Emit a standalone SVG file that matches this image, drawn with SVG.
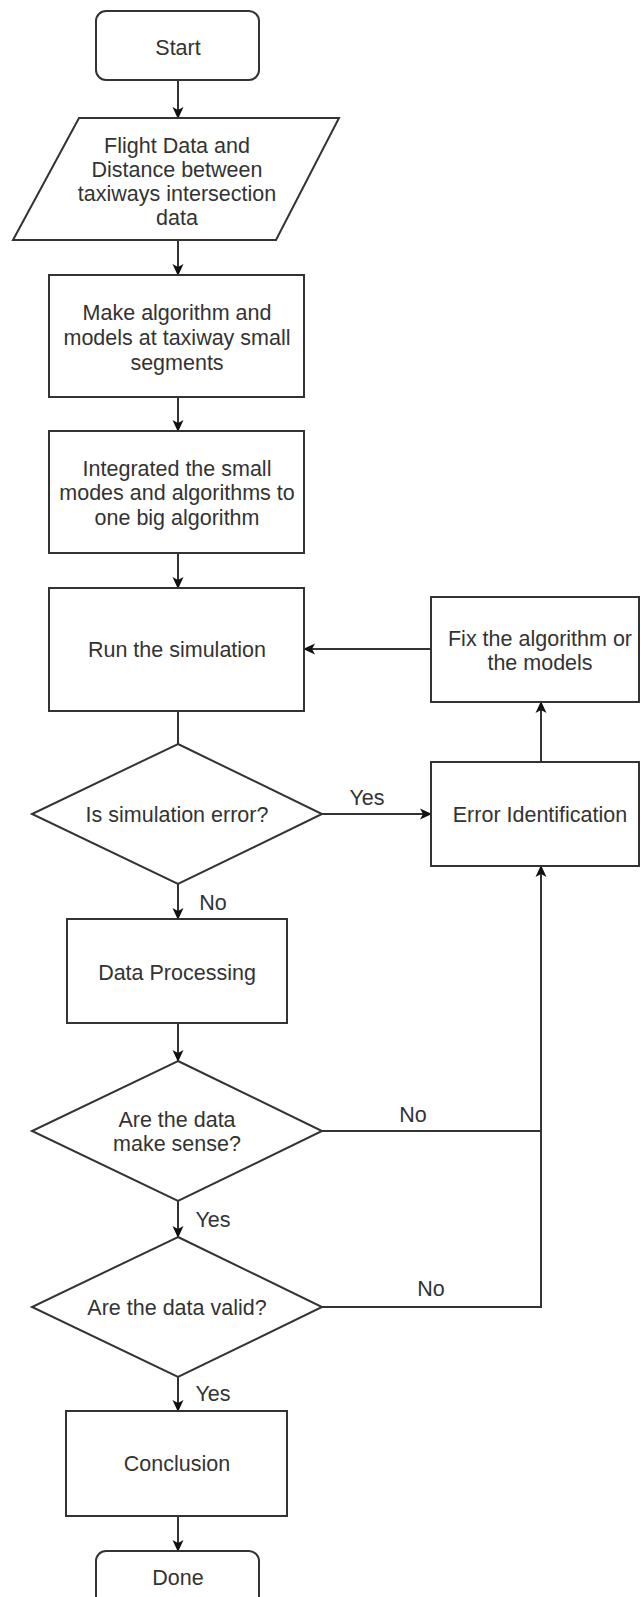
<svg xmlns="http://www.w3.org/2000/svg" width="641" height="1597" viewBox="0 0 641 1597">
<style>
.n{fill:#fff;stroke:#333;stroke-width:2}
.c{fill:none;stroke:#333;stroke-width:2}
text{font-family:"Liberation Sans",Arial,sans-serif;font-size:21.5px;fill:#333;text-anchor:middle}
</style>
<defs>
<marker id="ah" markerUnits="userSpaceOnUse" markerWidth="12" markerHeight="12" viewBox="0 0 12 12" refX="11" refY="6" orient="auto">
<path d="M0,0.5 L12,6 L0,11.5 L3,6 z" fill="#111"/>
</marker>
</defs>
<rect width="641" height="1597" fill="#fff"/>
<g id="connectors">
<path class="c" d="M178,80 V118" marker-end="url(#ah)"/>
<path class="c" d="M178,240 V275" marker-end="url(#ah)"/>
<path class="c" d="M178,397 V431" marker-end="url(#ah)"/>
<path class="c" d="M178,553 V588" marker-end="url(#ah)"/>
<path class="c" d="M178,711 V744"/>
<path class="c" d="M322,814 H431" marker-end="url(#ah)"/>
<path class="c" d="M541,762 V702" marker-end="url(#ah)"/>
<path class="c" d="M431,649 H304" marker-end="url(#ah)"/>
<path class="c" d="M178,884 V919" marker-end="url(#ah)"/>
<path class="c" d="M178,1023 V1061" marker-end="url(#ah)"/>
<path class="c" d="M322,1131 H541"/>
<path class="c" d="M178,1201 V1237" marker-end="url(#ah)"/>
<path class="c" d="M322,1307 H541 V866" marker-end="url(#ah)"/>
<path class="c" d="M178,1377 V1411" marker-end="url(#ah)"/>
<path class="c" d="M178,1516 V1551" marker-end="url(#ah)"/>
<text x="367" y="805">Yes</text>
<text x="213" y="910">No</text>
<text x="413" y="1122">No</text>
<text x="213" y="1227">Yes</text>
<text x="431" y="1296">No</text>
<text x="213" y="1401">Yes</text>
</g>
<g id="start">
<rect class="n" x="96" y="11" width="163" height="69" rx="10"/>
<text x="178" y="55">Start</text>
</g>
<g id="input">
<polygon class="n" points="79,118 339,118 276,240 13,240"/>
<text x="177" y="153">Flight Data and</text>
<text x="177" y="177">Distance between</text>
<text x="177" y="201">taxiways intersection</text>
<text x="177" y="225">data</text>
</g>
<g id="make">
<rect class="n" x="49" y="275" width="255" height="122"/>
<text x="177" y="320">Make algorithm and</text>
<text x="177" y="345">models at taxiway small</text>
<text x="177" y="370">segments</text>
</g>
<g id="integrate">
<rect class="n" x="49" y="431" width="255" height="122"/>
<text x="177" y="476">Integrated the small</text>
<text x="177" y="500">modes and algorithms to</text>
<text x="177" y="525">one big algorithm</text>
</g>
<g id="run">
<rect class="n" x="49" y="588" width="255" height="123"/>
<text x="177" y="657">Run the simulation</text>
</g>
<g id="fix">
<rect class="n" x="431" y="597" width="208" height="105"/>
<text x="540" y="646">Fix the algorithm or</text>
<text x="540" y="670">the models</text>
</g>
<g id="decision1">
<polygon class="n" points="178,744 322,814 178,884 32,814"/>
<text x="177" y="822">Is simulation error?</text>
</g>
<g id="errorid">
<rect class="n" x="431" y="762" width="208" height="104"/>
<text x="540" y="822">Error Identification</text>
</g>
<g id="process">
<rect class="n" x="67" y="919" width="220" height="104"/>
<text x="177" y="980">Data Processing</text>
</g>
<g id="decision2">
<polygon class="n" points="178,1061 322,1131 178,1201 32,1131"/>
<text x="177" y="1127">Are the data</text>
<text x="177" y="1151">make sense?</text>
</g>
<g id="decision3">
<polygon class="n" points="178,1237 322,1307 178,1377 32,1307"/>
<text x="177" y="1315">Are the data valid?</text>
</g>
<g id="conclusion">
<rect class="n" x="66" y="1411" width="221" height="105"/>
<text x="177" y="1471">Conclusion</text>
</g>
<g id="done">
<rect class="n" x="96" y="1551" width="163" height="69" rx="10"/>
<text x="178" y="1585">Done</text>
</g>
</svg>
